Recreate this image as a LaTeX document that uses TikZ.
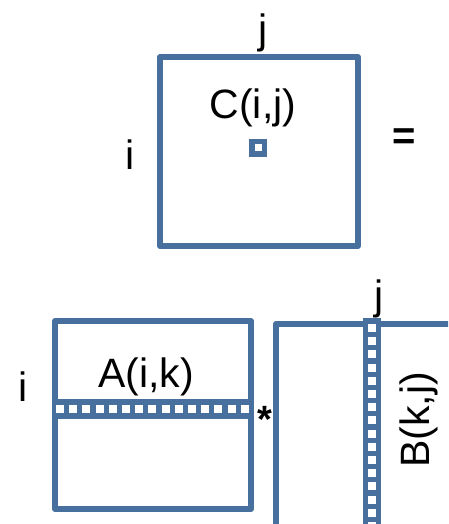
\documentclass[tikz,border=0pt]{standalone}
\usepackage{fontspec}
\setmainfont{Liberation Sans}
\definecolor{mblue}{RGB}{71,112,158}
\begin{document}
\begin{tikzpicture}[x=1pt,y=-1pt,
  mat/.style={draw=mblue,line width=6pt,line join=round},
  lbl/.style={inner sep=0pt,font=\fontsize{41}{41}\selectfont},
  sym/.style={inner sep=0pt,font=\fontsize{40}{40}\selectfont\bfseries},
  band/.style={fill=mblue},
  cell/.style={fill=white}]
\useasboundingbox (0,0) rectangle (448,524);
\clip (0,0) rectangle (448,524);
% C matrix
\node[mat,minimum width=198pt,minimum height=189pt,inner sep=0pt] (C) at (259,151.5) {};
\node[draw=mblue,line width=5.5pt,minimum size=12.5pt,inner sep=0pt] (cij) at (258,147.5) {};
\node[lbl] (Clab) at (253,108) {C(i,j)};
\node[lbl] (jC) at (263,33) {j};
\node[lbl] (iC) at (130,155) {i};
\node[sym] (eq) at (404.5,139) {=};
% A matrix
\node[mat,minimum width=196pt,minimum height=188pt,inner sep=0pt] (A) at (153,415) {};
\fill[band] (A.west |- 0,399) rectangle (A.east |- 0,419);
\foreach \k in {0,...,14} \fill[cell] (56+13.2*\k,405) rectangle ++(8,8);
\node[lbl] (Alab) at (146,377) {A(i,k)};
\node[lbl] (iA) at (23,387) {i};
\node[sym,font=\fontsize{38}{38}\selectfont\bfseries] (star) at (265,419) {*};
% B matrix
\node[mat,minimum width=250pt,minimum height=250pt,inner sep=0pt,anchor=north west] (B) at (273,321) {};
\fill[band] (363,318) rectangle (381,530);
\foreach \k in {0,...,15} \fill[cell] (368,324+13.2*\k) rectangle ++(8,8);
\node[lbl] (jB) at (379,299) {j};
\node[lbl,rotate=90] (Blab) at (419,420) {B(k,j)};
\end{tikzpicture}
\end{document}
